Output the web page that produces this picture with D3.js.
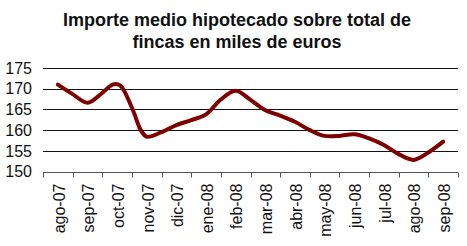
<!DOCTYPE html>
<html>
<head>
<meta charset="utf-8">
<script src="https://cdn.jsdelivr.net/npm/d3@7"></script>
<style>
  html, body { margin: 0; padding: 0; background: #fff; }
  text { font-family: Arial, "Liberation Sans", sans-serif; fill: #111; }
</style>
</head>
<body>
<svg id="chart"></svg>
<script>
// month labels (one per category)
const months = ["ago-07","sep-07","oct-07","nov-07","dic-07","ene-08","feb-08",
                "mar-08","abr-08","may-08","jun-08","jul-08","ago-08","sep-08"]

// curve every half month (0 = ago-07)
const steps = [0,0.5,1,1.5,1.85,2.1,2.5,2.8,3,3.5,4,4.5,5,5.5,6,6.5,7,7.5,8,8.5,9,9.5,10,10.5,11,11.5,12,12.5,13]
const importe = [171.0,168.7,166.6,169.0,171.0,170.8,165.4,160.0,158.4,159.5,161.2,162.4,163.8,167.4,169.5,167.3,
                 164.8,163.5,162.0,160.0,158.6,158.6,159.0,158.0,156.4,154.2,152.8,154.6,157.2]

const yTicks = [150,155,160,165,170,175]

const width = 467, height = 246
const margin = {top: 68, right: 9, bottom: 74, left: 43}

const svg = d3.select("#chart")
              .attr("width", width)
              .attr("height", height)

// title
const title = svg.append("text")
                 .attr("text-anchor", "middle")
                 .attr("font-size", 18)
                 .attr("font-weight", "bold")
title.append("tspan").attr("x", 237).attr("y", 26).text("Importe medio hipotecado sobre total de")
title.append("tspan").attr("x", 237).attr("y", 48).text("fincas en miles de euros")

const x = d3.scaleLinear()
            .domain([-0.5, months.length - 0.5])
            .range([margin.left, width - margin.right])

const y = d3.scaleLinear()
            .domain([150, 175])
            .range([height - margin.bottom - 0.5, margin.top])

// gridlines
svg.append("g")
   .selectAll("line")
   .data(yTicks.filter(d => d > 150))
   .join("line")
   .attr("x1", x.range()[0])
   .attr("x2", x.range()[1])
   .attr("y1", d => Math.round(y(d)) + 0.5)
   .attr("y2", d => Math.round(y(d)) + 0.5)
   .attr("stroke", "#111")
   .attr("stroke-width", 1)

// y labels
svg.append("g")
   .selectAll("text")
   .data(yTicks)
   .join("text")
   .attr("x", 32)
   .attr("y", d => y(d))
   .attr("dy", "0.36em")
   .attr("text-anchor", "end")
   .attr("font-size", 16)
   .text(d => d)

// x axis: line + ticks at category boundaries
const xAxis = svg.append("g")
                 .attr("transform", `translate(0,${Math.round(y(150)) + 0.5})`)
xAxis.append("line")
     .attr("x1", x.range()[0]).attr("x2", x.range()[1])
     .attr("stroke", "#555")
xAxis.selectAll(".tick")
     .data(d3.range(months.length + 1))
     .join("line")
     .attr("class", "tick")
     .attr("x1", d => Math.round(x(d - 0.5)) + 0.5)
     .attr("x2", d => Math.round(x(d - 0.5)) + 0.5)
     .attr("y1", 0).attr("y2", 5)
     .attr("stroke", "#555")

xAxis.selectAll("text")
     .data(months)
     .join("text")
     .attr("transform", (d, i) => `translate(${x(i) + 1},11) rotate(-90)`)
     .attr("text-anchor", "end")
     .attr("dy", "0.36em")
     .attr("font-size", 16)
     .text(d => d)

// the line
const line = d3.line()
               .x((d, i) => x(steps[i]))
               .y(d => y(d))
               .curve(d3.curveCatmullRom.alpha(0.5))

svg.append("path")
   .datum(importe)
   .attr("d", line)
   .attr("fill", "none")
   .attr("stroke", "#7f0000")
   .attr("stroke-width", 4)
   .attr("stroke-linejoin", "round")
   .attr("stroke-linecap", "round")
</script>
</body>
</html>
